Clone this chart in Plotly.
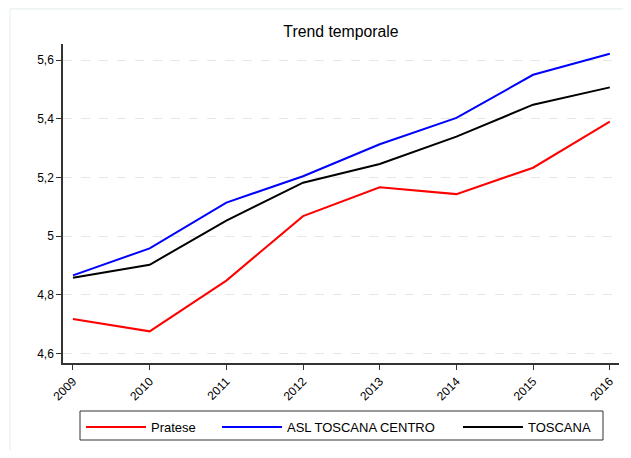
import plotly.graph_objects as go

years = [2009, 2010, 2011, 2012, 2013, 2014, 2015, 2016]
pratese = [4.717, 4.675, 4.848, 5.068, 5.166, 5.143, 5.233, 5.390]
asl_centro = [4.866, 4.958, 5.114, 5.204, 5.313, 5.403, 5.550, 5.622]
toscana = [4.858, 4.902, 5.053, 5.182, 5.246, 5.339, 5.448, 5.507]

series_names = ["Pratese", "ASL TOSCANA CENTRO", "TOSCANA"]
series_colors = ["#ff0000", "#0000ff", "#000000"]
y_tickvals = [4.6, 4.8, 5.0, 5.2, 5.4, 5.6]
y_ticktext = ["4,6", "4,8", "5", "5,2", "5,4", "5,6"]

legend_ids = ["legend", "legend2", "legend3"]
legend_x = [0.0324, 0.277, 0.7104]

fig = go.Figure()
for name, vals, col, lg in zip(series_names, [pratese, asl_centro, toscana], series_colors, legend_ids):
    fig.add_trace(go.Scatter(x=years, y=vals, mode="lines", name=name, legend=lg,
                             line=dict(color=col, width=2)))

def leg(x):
    return dict(orientation="h", x=x, xanchor="left", y=-0.1536, yanchor="top",
                borderwidth=0, bgcolor="rgba(0,0,0,0)",
                font=dict(size=13), itemwidth=60)

# page body has an 8px margin, so the figure is sized to fit inside it
W, H = 615, 442
fig.update_layout(
    width=W, height=H,
    margin=dict(l=55, r=4, t=36, b=87, autoexpand=False),
    paper_bgcolor="white", plot_bgcolor="white",
    font=dict(family="Arial, Liberation Sans, sans-serif", size=12, color="#000"),
    title=dict(text="Trend temporale", x=0.5, xref="paper", xanchor="center",
               y=1 - 23 / H, yref="container", yanchor="middle",
               font=dict(size=15.8, color="#000")),
    showlegend=True,
    legend=leg(legend_x[0]), legend2=leg(legend_x[1]), legend3=leg(legend_x[2]),
    xaxis=dict(range=[2008.87, 2016.12], tickvals=years, ticktext=[str(y) for y in years],
               tickangle=-45, ticks="outside", ticklen=5, tickcolor="#333",
               showline=True, linecolor="#333", linewidth=1.5, showgrid=False,
               zeroline=False, mirror=False, automargin=False),
    yaxis=dict(range=[4.567, 5.655], tickvals=y_tickvals, ticktext=y_ticktext,
               ticks="outside", ticklen=5, tickcolor="#333",
               showline=True, linecolor="#333", linewidth=1.5,
               showgrid=True, gridcolor="#e6e6e6", griddash="dash", gridwidth=1,
               zeroline=False, automargin=False),
    shapes=[dict(type="rect", xref="paper", yref="paper",
                 x0=-0.0953, x1=1.2, y0=-0.5, y1=1.11,
                 line=dict(color="#e3ecee", width=1), fillcolor="rgba(0,0,0,0)",
                 layer="below"),
            dict(type="rect", xref="paper", yref="paper",
                 x0=0.0306, x1=0.9712, y0=-0.2414, y1=-0.1505,
                 line=dict(color="#333", width=1), fillcolor="rgba(0,0,0,0)")],
)

fig.write_html("out.html")
